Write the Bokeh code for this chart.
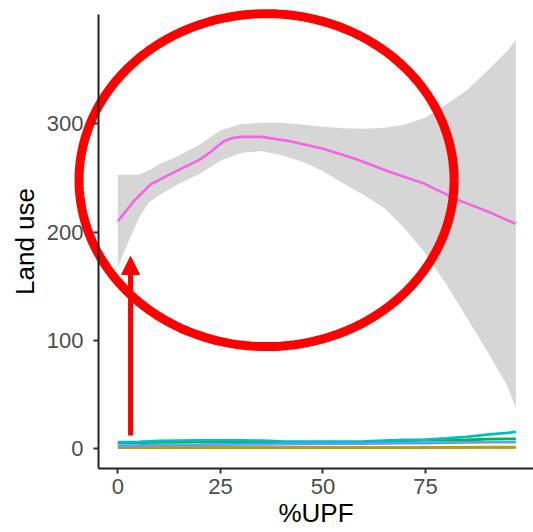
import numpy as np
from bokeh.plotting import figure
from bokeh.models import Range1d, FixedTicker, Arrow, NormalHead
from bokeh.embed import file_html
from bokeh.resources import INLINE

# ---- data ----
line_x = [0, 4, 8, 12, 16, 20, 22.6, 25.8, 28, 30, 35, 42, 50, 58, 66, 74.5, 82.7, 90.8, 97]
magenta_y = [210, 229, 244, 252, 259.5, 267, 274, 284, 287, 288, 288, 284, 277, 267.5, 256, 245, 230, 218, 207.5]

band_x = [0, 2.5, 5, 7.5, 10, 15, 20, 25, 30, 35, 40, 45, 50, 55, 60, 65, 70, 75, 80, 85, 90, 95, 97]
band_upper = [253, 253, 253, 257, 262.5, 271, 281, 294, 300, 301, 301, 299.5, 297.5, 296, 295.5, 296.5,
              299.5, 306, 318, 331, 349, 368, 377.5]
band_lower = [168, 190, 212, 227, 234, 245, 254, 266, 273, 275, 271, 265, 256.5, 245, 234, 222,
              203, 180, 152, 121, 90, 57, 37]

small_x = [0, 5, 10, 20, 30, 35, 40, 50, 60, 65, 70, 75, 80, 85, 90, 95, 97]
red_y = [0.5, 0.5, 0.5, 0.5, 0.5, 0.5, 0.5, 0.5, 0.5, 0.5, 0.5, 0.6, 0.7, 0.7, 0.8, 0.8, 0.8]
olive_y = [0.6, 0.6, 0.6, 0.6, 0.6, 0.6, 0.6, 0.6, 0.6, 0.6, 0.6, 0.7, 0.8, 0.8, 0.9, 0.9, 0.9]
green_y = [4.8, 5.0, 5.4, 5.8, 5.8, 5.6, 5.4, 5.3, 5.6, 6.2, 6.8, 7.4, 7.4, 7.6, 8.4, 8.6, 8.6]
cyan_y = [5.5, 5.8, 6.8, 7.2, 7.2, 7.0, 6.3, 6.0, 6.2, 7.0, 7.6, 8.0, 9.0, 10.5, 12.5, 14.2, 15.0]
blue_y = [2.2, 2.5, 3.0, 3.2, 3.5, 3.6, 3.8, 4.0, 4.2, 4.4, 4.6, 4.8, 5.2, 5.4, 5.6, 5.6, 5.6]

x_ticks = [0, 25, 50, 75]
y_ticks = [0, 100, 200, 300]

# panel limits (ggplot-style expanded ranges)
x_lo, x_hi = -4.7, 101.3
y_lo, y_hi = -19.1, 401.2

# annotation (red ellipse + arrow), in data units
ell_cx, ell_cy, ell_ax, ell_ay = 36.25, 248.0, 45.7, 154.0
arrow_x, arrow_y0, arrow_y1 = 3.1, 11.7, 177.3

FONT = "Liberation Sans"

# the frame spans the whole canvas so the annotation is not clipped;
# the axes are pinned at the panel edges with fixed_location
p = figure(width=533, height=532, output_backend="svg", toolbar_location=None,
           x_range=Range1d(-28.59, 101.3), y_range=Range1d(-78.0, 414.2),
           min_border_left=0, min_border_right=0, min_border_top=0, min_border_bottom=0,
           x_axis_label="%UPF", y_axis_label="Land use")
p.background_fill_color = "white"
p.border_fill_color = "white"
p.outline_line_color = None
p.grid.visible = False

for ax in (p.xaxis[0], p.yaxis[0]):
    ax.axis_line_color = "#222222"
    ax.axis_line_width = 2
    ax.major_tick_line_color = "#333333"
    ax.major_tick_line_width = 2
    ax.major_tick_in = 0
    ax.major_tick_out = 5
    ax.minor_tick_line_color = None
    ax.major_label_text_font = FONT
    ax.major_label_text_font_size = "22px"
    ax.major_label_text_color = "#4D4D4D"
    ax.axis_label_text_font = FONT
    ax.axis_label_text_font_size = "26px"
    ax.axis_label_text_font_style = "normal"
    ax.axis_label_text_color = "black"

p.xaxis.ticker = FixedTicker(ticks=x_ticks)
p.yaxis.ticker = FixedTicker(ticks=y_ticks)
p.xaxis.fixed_location = y_lo
p.yaxis.fixed_location = x_lo
p.xaxis.bounds = (x_lo, x_hi)
p.yaxis.bounds = (y_lo, y_hi)
p.xaxis.major_label_standoff = 5
p.xaxis.axis_label_standoff = 1
p.yaxis.major_label_standoff = 10
p.yaxis.axis_label_standoff = 4

colors = ["#F8766D", "#B79F00", "#00BA38", "#00BFC4", "#619CFF"]
for ys, c in zip([red_y, olive_y, green_y, cyan_y, blue_y], colors):
    p.line(small_x, ys, line_color=c, line_width=2.8)

p.varea(x=band_x, y1=band_lower, y2=band_upper, fill_color="#999999", fill_alpha=0.4)
p.line(line_x, magenta_y, line_color="#F564E3", line_width=2.6)

t = np.linspace(0, 2 * np.pi, 240)
p.line(list(ell_cx + ell_ax * np.cos(t)), list(ell_cy + ell_ay * np.sin(t)),
       line_color="#FF0000", line_width=9)

p.add_layout(Arrow(end=NormalHead(size=18, fill_color="#FF0000", line_color="#FF0000", line_width=1),
                   x_start=arrow_x, y_start=arrow_y0, x_end=arrow_x, y_end=arrow_y1,
                   line_color="#FF0000", line_width=5))

open("out.html", "w").write(file_html(p, INLINE))
